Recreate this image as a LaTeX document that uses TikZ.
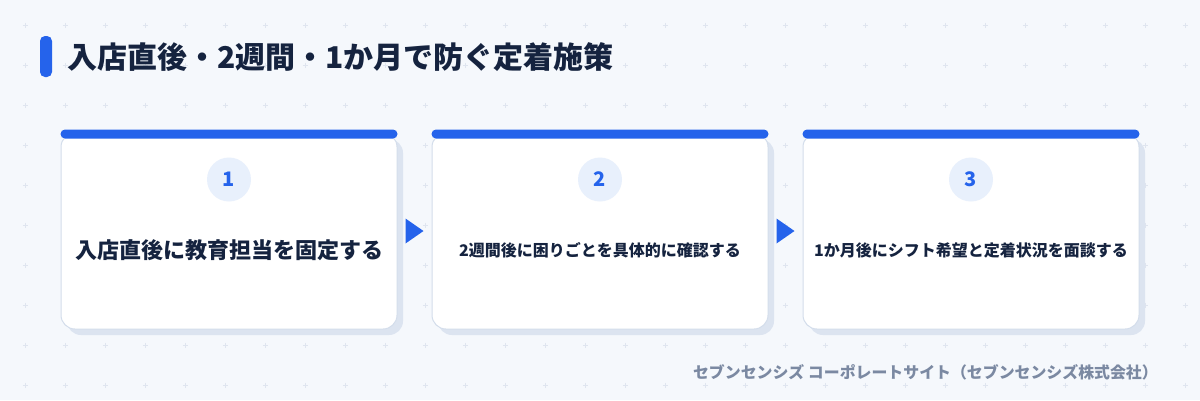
\documentclass[tikz,border=0pt]{standalone}
\usepackage{fontspec}
\setmainfont{Noto Sans CJK JP}
\usetikzlibrary{shadows,calc}
\definecolor{bg}{HTML}{F5F8FC}
\definecolor{gridc}{HTML}{DFE5EF}
\definecolor{accent}{HTML}{2563EB}
\definecolor{navy}{HTML}{15233F}
\definecolor{cardborder}{HTML}{D3DDEB}
\definecolor{shadowc}{HTML}{DCE4F0}
\definecolor{numfill}{HTML}{E8F0FC}
\definecolor{footc}{HTML}{7B89A2}
\tikzset{
  plusmark/.style={gridc,line width=0.8pt},
  card/.style={minimum width=336pt,minimum height=196pt,inner sep=0pt,
    rounded corners=14pt,fill=white,draw=cardborder,line width=1pt,
    general shadow={fill=shadowc,shadow xshift=6pt,shadow yshift=-6pt}},
  topbar/.style={fill=accent,rounded corners=4.5pt},
  numc/.style={circle,fill=numfill,minimum size=44pt,inner sep=0pt,
    text=accent,font=\bfseries\fontsize{20}{24}\selectfont},
  cardtxt/.style={text=navy,inner sep=0pt},
  arrowtri/.style={fill=accent},
}
\begin{document}
\begin{tikzpicture}[x=1pt,y=-1pt]
\useasboundingbox (0,0) rectangle (1200,400);
\fill[bg] (0,0) rectangle (1200,400);
\foreach \x in {25,65,...,1185} \foreach \y in {25,65,...,385} {
  \draw[plusmark] (\x-2.5,\y) -- (\x+2.5,\y) (\x,\y-2.5) -- (\x,\y+2.5);
}
% title
\fill[accent,rounded corners=5pt] (40,36) rectangle (52,77);
\node[anchor=west,text=navy,inner sep=0pt,font=\bfseries\fontsize{30}{34}\selectfont] (title) at (67,57) {入店直後・2週間・1か月で防ぐ定着施策};
% cards
\node[card] (c1) at (229,231) {};
\node[card] (c2) at (600,231) {};
\node[card] (c3) at (971,231) {};
\foreach \c in {c1,c2,c3} {
  \fill[topbar] ($(\c.north west)+(0,-3)$) rectangle ($(\c.north east)+(0,6)$);
}
\node[numc] (n1) at ($(c1.north)+(0,47)$) {1};
\node[numc] (n2) at ($(c2.north)+(0,47)$) {2};
\node[numc] (n3) at ($(c3.north)+(0,47)$) {3};
\node[cardtxt,font=\bfseries\fontsize{22}{26}\selectfont] (t1) at ($(c1.center)+(0,19)$) {入店直後に教育担当を固定する};
\node[cardtxt,font=\bfseries\fontsize{16}{20}\selectfont] (t2) at ($(c2.center)+(0,19)$) {2週間後に困りごとを具体的に確認する};
\node[cardtxt,font=\bfseries\fontsize{16}{20}\selectfont] (t3) at ($(c3.center)+(0,19)$) {1か月後にシフト希望と定着状況を面談する};
% arrows
\fill[arrowtri] ($(c1.east)+(8,-12.5)$) -- ($(c1.east)+(26,0)$) -- ($(c1.east)+(8,12.5)$) -- cycle;
\fill[arrowtri] ($(c2.east)+(8,-12.5)$) -- ($(c2.east)+(26,0)$) -- ($(c2.east)+(8,12.5)$) -- cycle;
% footer
\node[anchor=east,text=footc,inner sep=0pt,font=\bfseries\fontsize{15.9}{19}\selectfont] (foot) at (1158,372) {セブンセンシズ コーポレートサイト（セブンセンシズ株式会社）};
\end{tikzpicture}
\end{document}
